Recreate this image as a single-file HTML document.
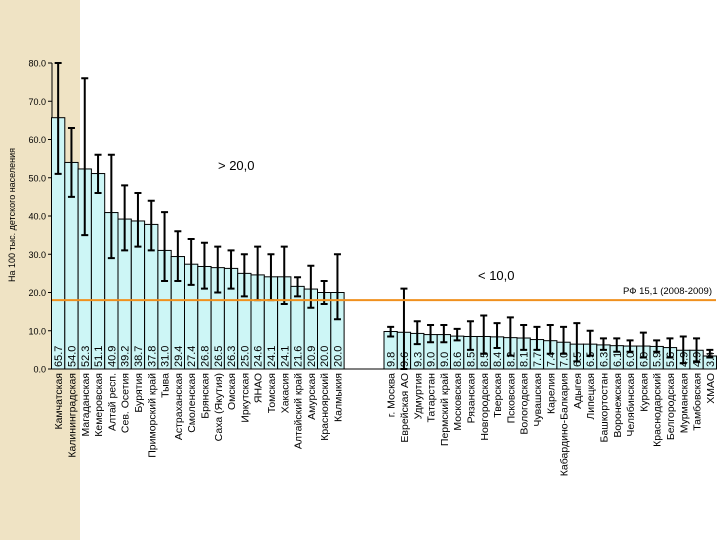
<!DOCTYPE html>
<html><head><meta charset="utf-8"><style>
body{margin:0;width:720px;height:540px;overflow:hidden;background:#fff;font-family:"Liberation Sans",sans-serif}
svg{position:absolute;left:0;top:0}
</style></head><body>
<svg id="c" width="720" height="540"></svg>
<script>
const leftCats=["Камчатская","Калининградская","Магаданская","Кемеровская","Алтай респ.","Сев. Осетия","Бурятия","Приморский край","Тыва","Астраханская","Смоленская","Брянская","Саха (Якутия)","Омская","Иркутская","ЯНАО","Томская","Хакасия","Алтайский край","Амурская","Красноярский","Калмыкия"];
const leftVals=[65.7,54.0,52.3,51.1,40.9,39.2,38.7,37.8,31.0,29.4,27.4,26.8,26.5,26.3,25.0,24.6,24.1,24.1,21.6,20.9,20.0,20.0];
const leftLo=[51,45,35,46,29,31,32,31,23,23,22,21,20,21,19,18,18,17,19,16,17,13];
const leftHi=[80,63,76,56,56,48,46,44,41,36,34,33,32,31,30,32,30,32,24,27,23,30];
const rightCats=["г. Москва","Еврейская АО","Удмуртия","Татарстан","Пермский край","Московская","Рязанская","Новгородская","Тверская","Псковская","Вологодская","Чувашская","Карелия","Кабардино-Балкария","Адыгея","Липецкая","Башкортостан","Воронежская","Челябинская","Курская","Краснодарский","Белгородская","Мурманская","Тамбовская","ХМАО"];
const rightVals=[9.8,9.6,9.3,9.0,9.0,8.6,8.5,8.5,8.4,8.2,8.1,7.7,7.4,7.0,6.5,6.5,6.3,6.1,6.0,6.0,5.9,5.6,4.9,4.9,3.4];
const rightLo=[8.5,0,6.5,7,7,7.5,5,4,5.5,3.5,5,5,4,4,2,3.5,5,4.5,4.5,3,4.5,3,1.5,2,3];
const rightHi=[11,21,12.5,11.5,11.5,10.5,12.5,14,12,13.5,11.5,11,11.5,11,12,10,8,8,7.5,9.5,7.5,8,8.5,8,5];
const yTicks=[0,10,20,30,40,50,60,70,80];
const rfValue=18;

const svg=document.getElementById('c');const NS='http://www.w3.org/2000/svg';
function el(t,a,txt){const e=document.createElementNS(NS,t);for(const k in a)e.setAttribute(k,a[k]);if(txt!=null)e.textContent=txt;svg.appendChild(e);return e;}
const x0=51,slot=13.3,y0=369,yTop=63;
const Y=v=>y0-(v/80)*(y0-yTop);
const X=i=>x0+i*slot;
let bg=el('rect',{x:0,y:0,width:80,height:540,fill:'#efe3c4'});

let pa=el('rect',{x:80,y:0,width:640,height:540,fill:'#fff'});

let ax=el('line',{x1:52,y1:yTop,x2:52,y2:y0,stroke:'#000','stroke-width':1});

let xa=el('line',{x1:52,y1:y0,x2:716,y2:y0,stroke:'#000','stroke-width':1});

yTicks.forEach(t=>{
 let tk=el('line',{x1:48,y1:Y(t),x2:52,y2:Y(t),stroke:'#000'});
 
 let tl=el('text',{x:46,y:Y(t)+3.5,'font-size':9,'text-anchor':'end',fill:'#000'},t.toFixed(1));
 
});
let yt=el('text',{x:0,y:0,'font-size':9,'text-anchor':'middle',transform:'translate(15,215) rotate(-90)'},'На 100 тыс. детского населения');

function drawGroup(cats,vals,lo,hi,off){
 cats.forEach((c,k)=>{
  const i=k+off,x=X(i),v=vals[k];
  let b=el('rect',{x:x+0.5,y:Y(v),width:slot,height:y0-Y(v),fill:'#cdf6f6',stroke:'#000','stroke-width':1});
  
  const cx=x+slot/2+0.5;
  let eb=el('path',{d:`M${cx},${Y(lo[k])}V${Y(hi[k])}M${cx-3.5},${Y(hi[k])}h7M${cx-3.5},${Y(lo[k])}h7`,stroke:'#000','stroke-width':2,fill:'none'});
  
  let vl=el('text',{x:0,y:0,'font-size':11,transform:`translate(${cx+4},${y0-2}) rotate(-90)`},v.toFixed(1));
  
  let cl=el('text',{x:0,y:0,'font-size':10.5,'text-anchor':'end',transform:`translate(${cx+4},${y0+4}) rotate(-90)`},c);
  
 });
}
drawGroup(leftCats,leftVals,leftLo,leftHi,0);
drawGroup(rightCats,rightVals,rightLo,rightHi,25);
let rf=el('line',{x1:52,y1:Y(rfValue),x2:716,y2:Y(rfValue),stroke:'#f0901e','stroke-width':2});

let rft=el('text',{x:712,y:Y(rfValue)-6,'font-size':9.5,'text-anchor':'end'},'РФ 15,1 (2008-2009)');

let a1=el('text',{x:218,y:170,'font-size':13},'> 20,0');

let a2=el('text',{x:478,y:280,'font-size':13},'< 10,0');

</script>
</body></html>
